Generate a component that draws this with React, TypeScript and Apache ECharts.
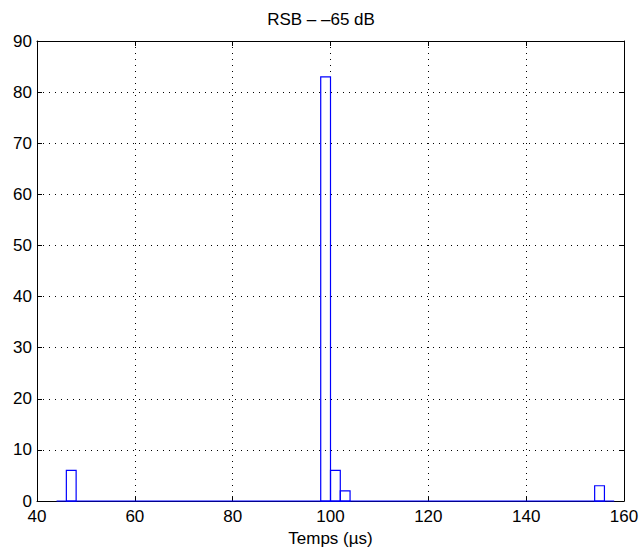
import React, { useEffect, useRef } from "react";
import * as echarts from "echarts";

const titleText = "RSB – –65 dB";
const xAxisName = "Temps (µs)";
// histogram bins (start, end) and counts
const binStarts = [46, 98, 100, 102, 154];
const binEnds = [48, 100, 102, 104, 156];
const counts = [6, 83, 6, 2, 3];
// range covered by the histogram (zero-count bins drawn on the baseline)
const histRange = [44, 158];

const xMin = 40, xMax = 160, xStep = 20;
const yMin = 0, yMax = 90, yStep = 10;

const FONT = "Liberation Sans, Arial, Helvetica, sans-serif";
const FS = 17;

export default function App() {
  const ref = useRef<HTMLDivElement>(null);
  useEffect(() => {
    if (!ref.current) return;
    const chart = echarts.init(ref.current, undefined, { renderer: "svg" });
    const data = binStarts.map((s, i) => [s, binEnds[i], counts[i]]);
    const tickStyle = { show: true, inside: true, length: 5, lineStyle: { color: "#000", width: 1 } };
    chart.setOption({
      animation: false,
      backgroundColor: "#fff",
      title: {
        text: titleText,
        left: "center",
        top: 11,
        padding: 0,
        textStyle: { fontFamily: FONT, fontSize: FS, fontWeight: "normal", color: "#000" },
      },
      grid: { left: 37, right: 18, top: 41, bottom: 49, show: false },
      xAxis: [
        {
          type: "value",
          min: xMin,
          max: xMax,
          interval: xStep,
          name: xAxisName,
          nameLocation: "middle",
          nameGap: 28,
          nameTextStyle: { fontFamily: FONT, fontSize: FS, color: "#000" },
          axisLine: { show: true, onZero: false, lineStyle: { color: "#000", width: 1 } },
          axisTick: tickStyle,
          axisLabel: { fontFamily: FONT, fontSize: FS, color: "#000", margin: 7 },
          splitLine: { show: true, lineStyle: { color: "#000", type: [1, 5], width: 1 } },
        },
        {
          type: "value",
          position: "top",
          min: xMin,
          max: xMax,
          interval: xStep,
          axisLine: { show: true, onZero: false, lineStyle: { color: "#000", width: 1 } },
          axisTick: tickStyle,
          axisLabel: { show: false },
          splitLine: { show: false },
        },
      ],
      yAxis: [
        {
          type: "value",
          min: yMin,
          max: yMax,
          interval: yStep,
          axisLine: { show: true, onZero: false, lineStyle: { color: "#000", width: 1 } },
          axisTick: tickStyle,
          axisLabel: { fontFamily: FONT, fontSize: FS, color: "#000", margin: 5 },
          splitLine: { show: true, lineStyle: { color: "#000", type: [1, 5], width: 1 } },
        },
        {
          type: "value",
          position: "right",
          min: yMin,
          max: yMax,
          interval: yStep,
          axisLine: { show: true, onZero: false, lineStyle: { color: "#000", width: 1 } },
          axisTick: tickStyle,
          axisLabel: { show: false },
          splitLine: { show: false },
        },
      ],
      series: [
        {
          type: "line",
          xAxisIndex: 0,
          yAxisIndex: 0,
          data: [[histRange[0], 0], [histRange[1], 0]],
          symbol: "none",
          lineStyle: { color: "#0000ff", width: 1.3 },
          z: 3,
        },
        {
          type: "custom",
          xAxisIndex: 0,
          yAxisIndex: 0,
          data,
          encode: { x: [0, 1], y: 2 },
          renderItem: (params: any, api: any) => {
            const p0 = api.coord([api.value(0), api.value(2)]);
            const p1 = api.coord([api.value(1), 0]);
            return {
              type: "rect",
              shape: { x: p0[0], y: p0[1], width: p1[0] - p0[0], height: p1[1] - p0[1] },
              style: { fill: "none", stroke: "#0000ff", lineWidth: 1.2 },
            };
          },
          z: 4,
        },
      ],
    });
    return () => chart.dispose();
  }, []);
  return <div ref={ref} style={{ width: 642, height: 552, position: "absolute", left: 0, top: 0 }} />;
}
